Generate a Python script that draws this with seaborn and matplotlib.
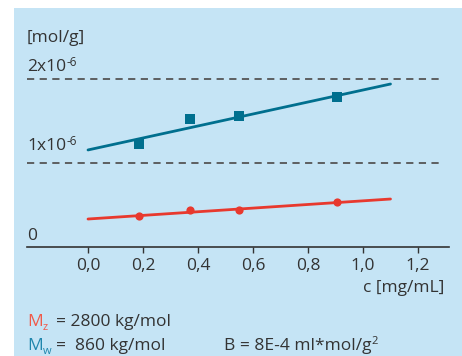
import numpy as np
import pandas as pd
import matplotlib.pyplot as plt
import matplotlib.transforms as mtransforms
import seaborn as sns

# measured points
conc = [0.185, 0.371, 0.549, 0.905]
mw_vals = [1.226e-6, 1.524e-6, 1.56e-6, 1.786e-6]
mz_vals = [0.369e-6, 0.44e-6, 0.44e-6, 0.536e-6]

# fit lines (start / end)
fit_c = [0.0, 1.1]
mw_fit = [1.155e-6, 1.94e-6]
mz_fit = [0.333e-6, 0.571e-6]

xticks = [0.0, 0.2, 0.4, 0.6, 0.8, 1.0, 1.2]
xtick_labels = ['0,0', '0,2', '0,4', '0,6', '0,8', '1,0', '1,2']

bg = '#c5e4f5'
blue = '#006f8e'
red = '#e8392e'
txt = '#333333'
fs = 12.5

sns.set_style('white')
plt.rcParams['font.family'] = ['Open Sans', 'DejaVu Sans']

fig = plt.figure(figsize=(4.62, 3.56), dpi=100)
ax = fig.add_axes([0, 0, 1, 1])
ax.patch.set_alpha(0)
ax.add_patch(plt.Rectangle((14 / 462, 0), 1, 1 - 8 / 356, transform=fig.transFigure,
                           facecolor=bg, edgecolor='none', zorder=0, clip_on=False))

pts = pd.DataFrame({'c': conc, 'Mw': mw_vals, 'Mz': mz_vals})
fits = pd.DataFrame({'c': fit_c, 'Mw': mw_fit, 'Mz': mz_fit})

sns.lineplot(data=fits, x='c', y='Mw', color=blue, lw=2, ax=ax)
sns.lineplot(data=fits, x='c', y='Mz', color=red, lw=2, ax=ax)
sns.scatterplot(data=pts, x='c', y='Mw', color=blue, marker='s', s=50, linewidth=0, ax=ax, zorder=3)
sns.scatterplot(data=pts, x='c', y='Mz', color=red, marker='o', s=35, linewidth=0, ax=ax, zorder=3)

# dashed reference lines
for yv in [1e-6, 2e-6]:
    ax.plot([-0.222, 1.295], [yv, yv], ls=(0, (4, 3)), color='#555555', lw=1.3)

ax.set_xlim(-0.32, 1.36)
ax.set_ylim(-1.2976e-6, 2.94e-6)

for s in ['top', 'right', 'left']:
    ax.spines[s].set_visible(False)
ax.spines['bottom'].set_position(('data', 0))
ax.spines['bottom'].set_bounds(-0.222, 1.313)
ax.spines['bottom'].set_color('#333333')
ax.spines['bottom'].set_linewidth(1.2)
ax.set_xticks(xticks)
ax.set_xticklabels(xtick_labels)
ax.set_yticks([])
ax.tick_params(axis='x', direction='out', length=4, width=1, color='#333333',
               labelsize=fs, labelcolor=txt, pad=4, bottom=True)
ax.set_xlabel('')
ax.set_ylabel('')

renderer = fig.canvas.get_renderer()


def rich(x, y, parts):
    # parts: (text, color, size, dy in pixels)
    dx = 0
    for s, col, size, dy in parts:
        tr = mtransforms.offset_copy(ax.transData, fig=fig, x=dx, y=dy, units='dots')
        t = ax.text(x, y, s, fontsize=size, color=col, va='baseline', transform=tr)
        dx += t.get_window_extent(renderer).width


# y labels
ax.text(-0.222, 0.085e-6, '0', fontsize=fs, color=txt, va='baseline')
rich(-0.222, 1.155e-6, [('1x10', txt, fs, 0), ('-6', txt, 8.5, 5)])
rich(-0.222, 2.1e-6, [('2x10', txt, fs, 0), ('-6', txt, 8.5, 5)])
ax.text(-0.222, 2.44e-6, '[mol/g]', fontsize=fs, color=txt, va='baseline')

ax.text(1.295, -0.53e-6, 'c [mg/mL]', fontsize=fs, color=txt, ha='right', va='baseline')

# annotations
rich(-0.222, -0.94e-6, [('M', '#f05a4a', fs, 0), ('z', '#f05a4a', 8, -4)])
ax.text(-0.118, -0.94e-6, '= 2800 kg/mol', fontsize=fs, color=txt, va='baseline')
rich(-0.222, -1.23e-6, [('M', '#1f86ad', fs, 0), ('w', '#1f86ad', 8, -4)])
ax.text(-0.118, -1.23e-6, '=  860 kg/mol', fontsize=fs, color=txt, va='baseline')
rich(0.494, -1.23e-6, [('B = 8E-4 ml*mol/g', txt, fs, 0), ('2', txt, 8, 6)])

fig.savefig('out.png', dpi=100)
